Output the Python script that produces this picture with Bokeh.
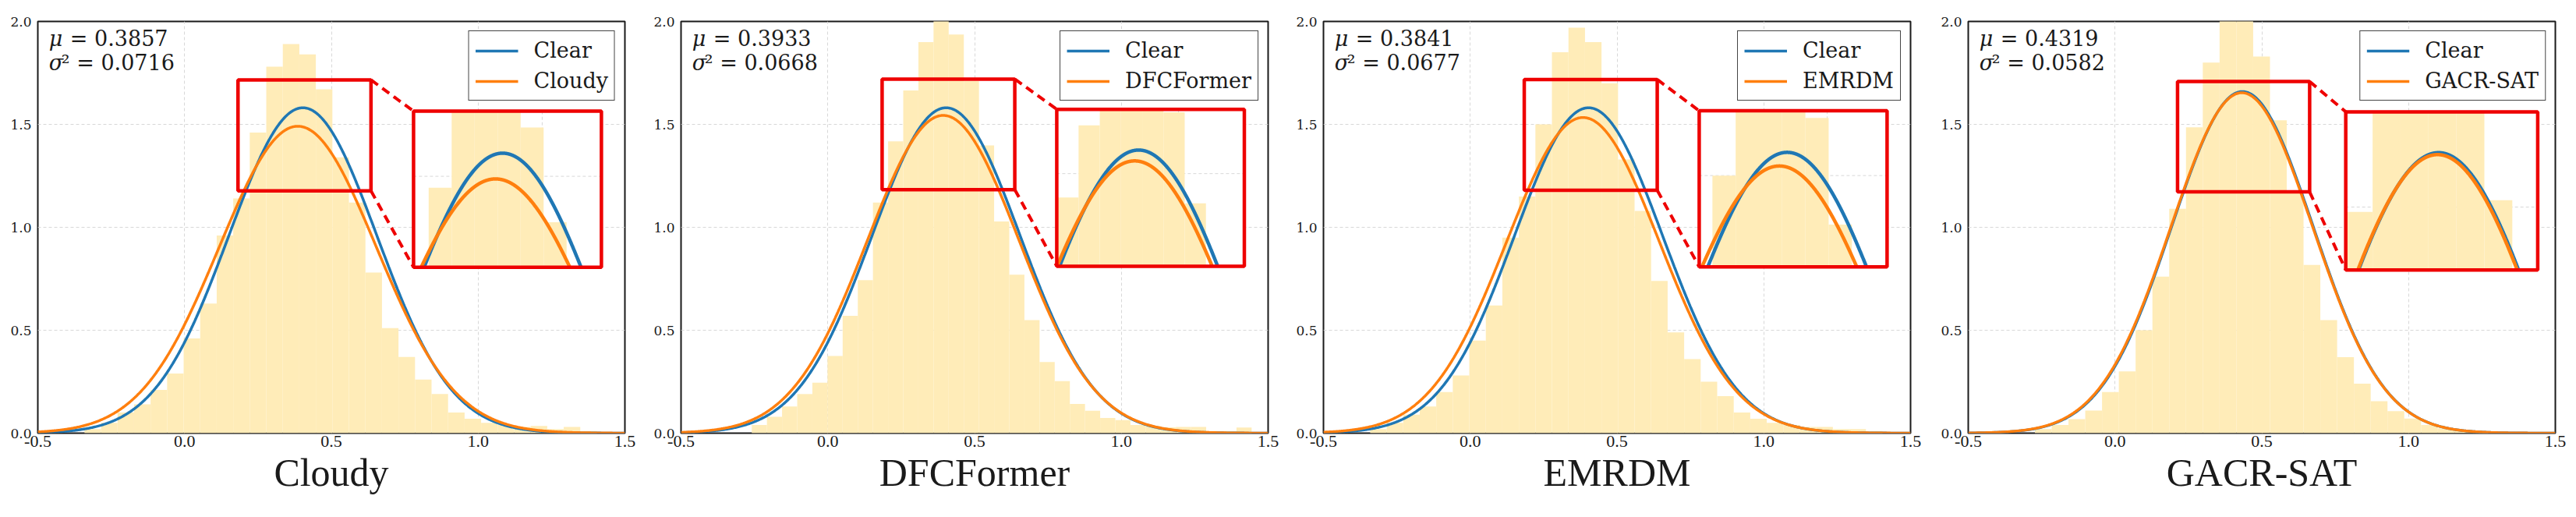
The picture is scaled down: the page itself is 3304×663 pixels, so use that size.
import numpy as np
from bokeh.plotting import figure
from bokeh.layouts import row
from bokeh.models import Legend, LegendItem, Label, FixedTicker, NumeralTickFormatter, Range1d
from bokeh.embed import file_html
from bokeh.resources import INLINE

# ---------------- data ----------------
titles = ["Cloudy", "DFCFormer", "EMRDM", "GACR-SAT"]
method_mu = [0.3857, 0.3933, 0.3841, 0.4319]
method_var = [0.0716, 0.0668, 0.0677, 0.0582]
clear_mu = [0.403, 0.403, 0.403, 0.434]
clear_var = [0.0637, 0.0637, 0.0637, 0.0578]

bin_start = [-0.341, -0.259, -0.341, -0.273]
bin_width = [0.0563, 0.0516, 0.0563, 0.0572]

hist_cloudy = [0.02, 0.05, 0.10, 0.14, 0.21, 0.29, 0.46, 0.63, 0.96, 1.14, 1.46, 1.78,
               1.89, 1.84, 1.67, 1.34, 1.12, 0.78, 0.51, 0.37, 0.26, 0.19, 0.10, 0.07,
               0.05, 0.04, 0.03, 0.035, 0.02, 0.03, 0.01]
hist_dfcformer = [0.04, 0.08, 0.13, 0.19, 0.245, 0.375, 0.57, 0.743, 1.12, 1.418, 1.665,
                  1.90, 2.05, 1.937, 1.71, 1.398, 1.028, 0.77, 0.549, 0.346, 0.253, 0.142,
                  0.109, 0.074, 0.063, 0.04, 0.035, 0.028, 0.03, 0.03, 0.01, 0.01, 0.027]
hist_emrdm = [0.02, 0.05, 0.09, 0.13, 0.20, 0.28, 0.45, 0.62, 0.95, 1.15, 1.50, 1.85,
              1.97, 1.90, 1.70, 1.33, 1.08, 0.74, 0.49, 0.36, 0.25, 0.18, 0.10, 0.07,
              0.05, 0.04, 0.03, 0.03, 0.02, 0.02, 0.01]
hist_gacr = [0.02, 0.04, 0.068, 0.11, 0.20, 0.30, 0.50, 0.76, 1.09, 1.486, 1.80, 2.05,
             2.05, 1.83, 1.52, 1.175, 0.817, 0.549, 0.369, 0.241, 0.155, 0.107, 0.071,
             0.04, 0.024, 0.016, 0.01]
hists = [hist_cloudy, hist_dfcformer, hist_emrdm, hist_gacr]

# zoomed region marked in main axes (x0, x1, y0, y1)
mark_box = [(0.182, 0.635, 1.177, 1.716), (0.185, 0.637, 1.183, 1.720),
            (0.184, 0.637, 1.180, 1.718), (0.213, 0.663, 1.172, 1.708)]
# data window shown inside the inset
inset_view = [(0.185, 0.645, 1.183, 1.727), (0.204, 0.660, 1.183, 1.720),
              (0.190, 0.645, 1.183, 1.725), (0.244, 0.637, 1.316, 1.779)]
# where the inset sits, in main-axes data coordinates
inset_box = [(0.780, 1.420, 0.806, 1.564), (0.780, 1.419, 0.811, 1.573),
             (0.780, 1.420, 0.808, 1.566), (0.786, 1.440, 0.793, 1.561)]

# ---------------- styling ----------------
BLUE = "#1f77b4"
ORANGE = "#ff7f0e"
HIST = "#FFECB8"
RED = "#EE0000"
GRID = "#d8d8d8"
INK = "#1a1a1a"

widths = [825, 824, 827, 828]
tops = [27, 27, 27, 21]
FRAME_W, FRAME_H, H = 753, 534, 663


def pdf(x, mu, var):
    return np.exp(-(x - mu) ** 2 / (2 * var)) / np.sqrt(2 * np.pi * var)


def to_main(x, y, view, box):
    vx0, vx1, vy0, vy1 = view
    bx0, bx1, by0, by1 = box
    X = bx0 + (np.asarray(x, float) - vx0) / (vx1 - vx0) * (bx1 - bx0)
    Y = by0 + (np.asarray(y, float) - vy0) / (vy1 - vy0) * (by1 - by0)
    return X, Y


def stat_label(p, y, sym, rest, off):
    p.add_layout(Label(x=-0.462, y=y, text=sym, text_font="DejaVu Serif",
                       text_font_style="italic", text_font_size="27px",
                       text_baseline="middle", text_color=INK))
    p.add_layout(Label(x=-0.462, y=y, x_offset=off, text=rest, text_font="DejaVu Serif",
                       text_font_size="27px", text_baseline="middle", text_color=INK))


figs = []
xs = np.linspace(-0.5, 1.5, 801)
for i in range(4):
    p = figure(width=widths[i], height=H, x_range=Range1d(-0.5, 1.5), y_range=Range1d(0, 2),
               output_backend="svg", toolbar_location=None,
               min_border_left=48, min_border_right=widths[i] - 48 - FRAME_W,
               min_border_top=tops[i], min_border_bottom=H - tops[i] - FRAME_H)
    p.background_fill_color = "white"
    p.border_fill_color = "white"
    p.outline_line_color = INK
    p.outline_line_width = 2

    # axes
    p.xaxis.ticker = FixedTicker(ticks=[-0.5, 0.0, 0.5, 1.0, 1.5])
    p.yaxis.ticker = FixedTicker(ticks=[0.0, 0.5, 1.0, 1.5, 2.0])
    p.xaxis.formatter = NumeralTickFormatter(format="0.0")
    p.yaxis.formatter = NumeralTickFormatter(format="0.0")
    for ax in (p.xaxis, p.yaxis):
        ax.axis_line_color = None
        ax.major_tick_in = 0
        ax.major_tick_out = 0
        ax.minor_tick_line_color = None
        ax.major_label_text_color = INK
    p.yaxis.major_label_text_font = "DejaVu Serif"
    p.yaxis.major_label_text_font_size = "17px"
    p.yaxis.major_label_standoff = 8
    p.xaxis.major_label_text_font = "Liberation Serif"
    p.xaxis.major_label_text_font_size = "22px"
    p.xaxis.major_label_standoff = 3
    p.xaxis.axis_label = titles[i]
    p.xaxis.axis_label_text_font = "Liberation Serif"
    p.xaxis.axis_label_text_font_size = "50px"
    p.xaxis.axis_label_text_font_style = "normal"
    p.xaxis.axis_label_text_color = INK
    p.xaxis.axis_label_standoff = 2

    p.grid.grid_line_color = GRID
    p.grid.grid_line_dash = "4 3"
    p.grid.grid_line_width = 1

    # histogram
    h = np.asarray(hists[i], float)
    edges = bin_start[i] + bin_width[i] * np.arange(len(h) + 1)
    p.quad(left=edges[:-1], right=edges[1:], bottom=0, top=h,
           fill_color=HIST, line_color=None)

    # fitted normal curves
    r_clear = p.line(xs, pdf(xs, clear_mu[i], clear_var[i]), line_color=BLUE, line_width=3.5)
    r_meth = p.line(xs, pdf(xs, method_mu[i], method_var[i]), line_color=ORANGE, line_width=3.5)

    # ---------- inset ----------
    view = inset_view[i]
    box = inset_box[i]
    vx0, vx1, vy0, vy1 = view
    bx0, bx1, by0, by1 = box
    p.quad(left=[bx0], right=[bx1], bottom=[by0], top=[by1], fill_color="white", line_color=None)
    gx, _ = to_main([0.5, 0.5], [vy0, vy1], view, box)
    _, gy = to_main([vx0, vx1], [1.5, 1.5], view, box)
    if vx0 < 0.5 < vx1:
        p.segment(x0=[gx[0]], y0=[by0], x1=[gx[0]], y1=[by1], line_color=GRID,
                  line_dash="4 3", line_width=1)
    if vy0 < 1.5 < vy1:
        p.segment(x0=[bx0], y0=[gy[0]], x1=[bx1], y1=[gy[0]], line_color=GRID,
                  line_dash="4 3", line_width=1)
    L, R, T = [], [], []
    for k in range(len(h)):
        l = max(edges[k], vx0)
        r = min(edges[k + 1], vx1)
        t = min(h[k], vy1)
        if r > l and t > vy0:
            L.append(l)
            R.append(r)
            T.append(t)
    if L:
        Lm, Bm = to_main(L, [vy0] * len(L), view, box)
        Rm, Tm = to_main(R, T, view, box)
        p.quad(left=Lm, right=Rm, bottom=Bm, top=Tm, fill_color=HIST, line_color=None)
    xi = np.linspace(vx0, vx1, 1200)
    for mu, var, col in ((clear_mu[i], clear_var[i], BLUE), (method_mu[i], method_var[i], ORANGE)):
        yi = pdf(xi, mu, var)
        m = (yi >= vy0) & (yi <= vy1)
        X, Y = to_main(xi[m], yi[m], view, box)
        p.line(X, Y, line_color=col, line_width=4.5)
    p.quad(left=[bx0], right=[bx1], bottom=[by0], top=[by1], fill_color=None,
           line_color=RED, line_width=4.5)
    mx0, mx1, my0, my1 = mark_box[i]
    p.quad(left=[mx0], right=[mx1], bottom=[my0], top=[my1], fill_color=None,
           line_color=RED, line_width=4.5)
    p.segment(x0=[mx1, mx1], y0=[my1, my0], x1=[bx0, bx0], y1=[by1, by0],
              line_color=RED, line_width=4, line_dash="11 7")

    # stats text
    stat_label(p, 1.918, "μ", f"= {method_mu[i]:.4f}", 27)
    stat_label(p, 1.800, "σ", f"² = {method_var[i]:.4f}", 16)

    legend = Legend(items=[LegendItem(label="Clear", renderers=[r_clear]),
                           LegendItem(label=titles[i], renderers=[r_meth])],
                    location="top_right")
    legend.label_text_font = "DejaVu Serif"
    legend.label_text_font_size = "27px"
    legend.label_text_color = INK
    legend.glyph_width = 55
    legend.glyph_height = 30
    legend.label_height = 33
    legend.label_standoff = 20
    legend.padding = 8
    legend.spacing = 6
    legend.margin = 12
    legend.border_line_color = "#444444"
    legend.border_line_width = 1.5
    legend.border_line_alpha = 1.0
    legend.background_fill_alpha = 1.0
    p.add_layout(legend)

    figs.append(p)

layout = row(*figs, spacing=0)
open("out.html", "w").write(file_html(layout, INLINE))
